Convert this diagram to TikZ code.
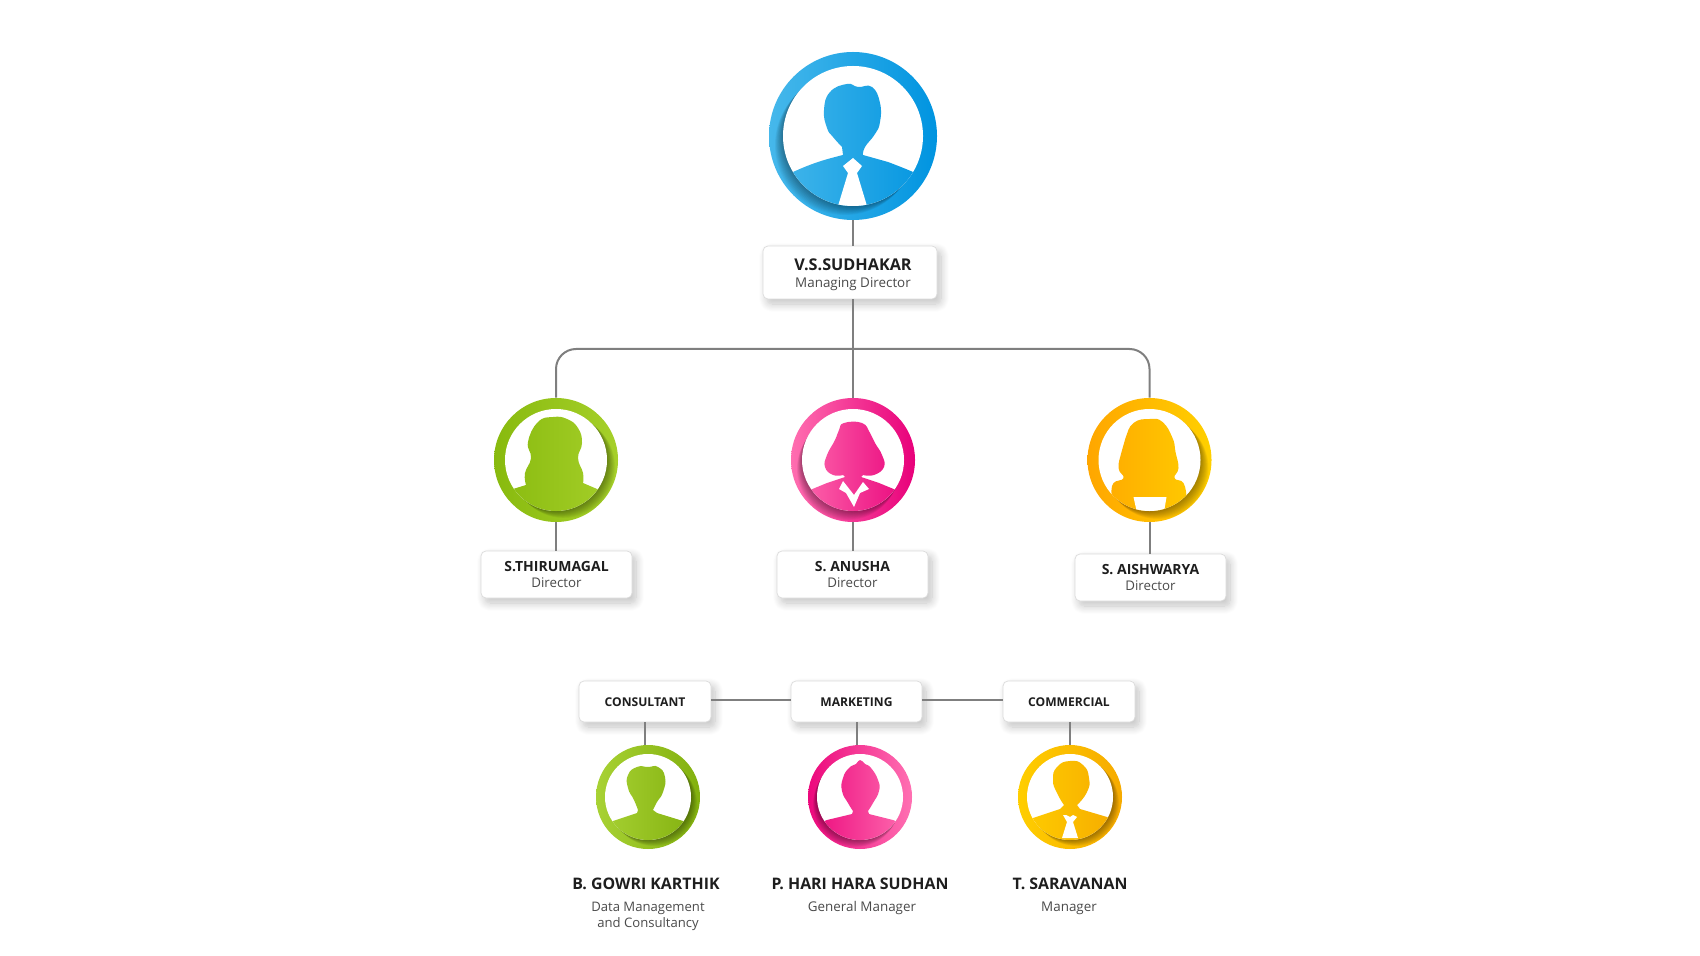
\documentclass[tikz,border=0pt]{standalone}
\usepackage{fontspec}
\setmainfont{Open Sans}
\usetikzlibrary{calc,shadows.blur}
\definecolor{conncol}{HTML}{7F7F7F}
\definecolor{namecol}{HTML}{1E1E1E}
\definecolor{rolecol}{HTML}{4A4A4A}
\tikzset{
  conn/.style={draw=conncol,line width=1pt},
  cardbox/.style={draw=black!14,line width=.35pt,fill=white,rounded corners=2.5pt,inner sep=0pt,
    align=center,blur shadow={shadow xshift=2pt,shadow yshift=-2.5pt,shadow blur radius=4pt,shadow blur steps=10,shadow opacity=24}},
  blueshade/.style={left color={rgb,255:red,70;green,184;blue,235},right color={rgb,255:red,0;green,148;blue,224}},
  greenAshade/.style={left color={rgb,255:red,136;green,186;blue,14},right color={rgb,255:red,166;green,208;blue,42}},
  pinkAshade/.style={left color={rgb,255:red,255;green,110;blue,176},right color={rgb,255:red,232;green,0;blue,122}},
  yellowAshade/.style={left color={rgb,255:red,255;green,166;blue,0},right color={rgb,255:red,255;green,208;blue,0}},
  greenBshade/.style={left color={rgb,255:red,168;green,210;blue,52},right color={rgb,255:red,130;green,176;blue,14}},
  pinkBshade/.style={left color={rgb,255:red,236;green,8;blue,124},right color={rgb,255:red,255;green,112;blue,178}},
  yellowBshade/.style={left color={rgb,255:red,255;green,206;blue,0},right color={rgb,255:red,246;green,170;blue,0}},
}
\newcommand{\person}[8]{%
  \node[circle,inner sep=0pt,minimum size=#3pt,#5] (#1) at #2 {};
  \begin{scope}
    \clip #2 circle[radius=#3];
    \foreach \t in {.1,.2,...,1.01}{\fill[black,opacity=.04] ($#2+\t*#6$) circle[radius=#4];}
  \end{scope}
  \fill[white] #2 circle[radius=#4];
  \begin{scope}[shift={#2}]
    \clip (0,0) circle[radius=#4];
    \begin{scope}
      \clip #7;
      \shade[#5] (0,0) circle[radius=#3];
    \end{scope}
    #8
  \end{scope}
}
\newcommand{\nm}[1]{\fontsize{#1}{#1}\selectfont\bfseries\color{namecol}}
\newcommand{\rl}[1]{\fontsize{#1}{#1}\selectfont\color{rolecol}}
\begin{document}
\begin{tikzpicture}[x=.5pt,y=-.5pt]
\useasboundingbox (0,0) rectangle (1700,956);
% people
\person{md}{(853,136)}{84}{70}{blueshade}{(-8,9)}
 {(-95,90) -- plot[smooth,tension=.7] coordinates {(-75,44)(-60,36)(-35,26)(-10,19)} -- plot[smooth,tension=.8] coordinates {(-11,11)(-20,1)(-26,-8)(-29,-26)(-23,-44)(-6,-52)(5,-49)(19,-49)(27,-33)(27,-14)(22,-2)(12,11)(10,19)} -- plot[smooth,tension=.7] coordinates {(35,26)(60,36)(75,44)} -- (95,90) -- cycle}
 {\fill[white] (0,22) -- (9,30) -- (4,37) -- (14,70) -- (-15,70) -- (-5,37) -- (-10,30) -- cycle;}
\person{da}{(556,460)}{62}{51}{greenAshade}{(8,7)}
 {(-60,60) -- (-60,34) -- (-43,29) -- plot[smooth,tension=.8] coordinates {(-30,25)(-31,13)(-25,-2)(-28,-18)(-18,-38)(-3,-43)(11,-41)(22,-32)(26,-17)(22,-2)(27,13)(27,23)} -- (41,29) -- (60,38) -- (60,60) -- cycle}
 {}
\person{db}{(853,460)}{62}{51}{pinkAshade}{(-5,9)}
 {(-60,60) -- (-60,36) -- (-43,30) -- (-26,23) -- (-8,17) -- plot[smooth,tension=.8] coordinates {(-10,15)(-20,15)(-28,7)(-26,-5)(-18,-20)(-14,-30)(-9,-37)(9,-37)(17,-27)(22,-17)(29,-5)(31,7)(21,15)(10,15)} -- (8,17) -- (26,23) -- (43,30) -- (60,36) -- (60,60) -- cycle}
 {\fill[white] (-14,29) -- (-10,21) -- (1,35) -- (10,22) -- (16,29) -- (7,33) -- (1,47) -- (-7,33) -- cycle;}
\person{dc}{(1149.5,460)}{62}{51}{yellowAshade}{(8,8)}
 {(-60,60) -- (-38,40) -- plot[smooth,tension=.8] coordinates {(-38,33)(-36,23)(-26,18)(-31,8)(-28,-8)(-24,-22)(-16,-37)(0,-41)(13,-38)(23,-22)(26,-8)(29,8)(25,18)(34,23)(37,37)} -- (60,60) -- cycle}
 {\fill[white] (-16,37) -- (17,37) -- (14,55) -- (-12,55) -- cycle;}
\person{pa}{(648,797)}{52}{43}{greenBshade}{(6,6)}
 {(-60,60) -- (-50,30) -- plot[smooth,tension=.7] coordinates {(-35,24)(-11,16)} -- plot[smooth,tension=.9] coordinates {(-10,13)(-14,3)(-20,-9)(-20,-22)(-11,-30)(0,-30)(10,-30)(17,-20)(15,-5)(9,5)(5,13)} -- plot[smooth,tension=.7] coordinates {(9,16)(35,24)} -- (50,30) -- (60,60) -- cycle}
 {}
\person{pb}{(860,797)}{52}{43}{pinkBshade}{(-4,7)}
 {(-60,60) -- (-50,30) -- plot[smooth,tension=.7] coordinates {(-33,23)(-8,17)} -- plot[smooth,tension=.9] coordinates {(-7,14)(-12,6)(-18,-6)(-17,-19)(-11,-29)(-4,-33)(0,-37)(5,-33)(11,-29)(18,-17)(19,-6)(13,6)(8,14)} -- plot[smooth,tension=.7] coordinates {(9,17)(33,23)} -- (50,30) -- (60,60) -- cycle}
 {}
\person{pc}{(1070,797)}{52}{43}{yellowBshade}{(6,6)}
 {(-60,60) -- (-50,28) -- plot[smooth,tension=.7] coordinates {(-37,21)(-10,12)} -- plot[smooth,tension=.9] coordinates {(-6,8)(-13,-4)(-17,-17)(-13,-30)(0,-36)(13,-32)(19,-19)(17,-5)(7,8)} -- plot[smooth,tension=.7] coordinates {(10,12)(37,20)} -- (50,28) -- (60,60) -- cycle}
 {\fill[white] (-7,18) -- (-4,18) -- (0,20) -- (3,18) -- (7,20) -- (3,25) -- (8,41) -- (-8,41) -- (-3,25) -- cycle;}
% boxes
\node[cardbox,minimum width=87pt,minimum height=26.5pt] (bmd) at (850,272.5)
  {\hspace*{3pt}{\rule{0pt}{8pt}\nm{8.1}V.S.SUDHAKAR}\\[-3.4pt]\hspace*{3pt}{\rl{6.7}Managing Director}};
\node[cardbox,minimum width=75.5pt,minimum height=23.5pt] (bda) at (556.5,574.5)
  {{\nm{7}S.THIRUMAGAL}\\[-3.9pt]{\rl{6.65}Director}};
\node[cardbox,minimum width=75.5pt,minimum height=23.5pt] (bdb) at (852.5,574.5)
  {{\nm{7}S. ANUSHA}\\[-3.9pt]{\rl{6.65}Director}};
\node[cardbox,minimum width=75.5pt,minimum height=23.5pt] (bdc) at (1150.5,577.5)
  {{\nm{7}S. AISHWARYA}\\[-3.9pt]{\rl{6.65}Director}};
\node[cardbox,minimum width=66pt,minimum height=20.5pt] (bpa) at (645,701.5) {\rule{0pt}{5.3pt}\nm{6.05}CONSULTANT};
\node[cardbox,minimum width=65.5pt,minimum height=20.5pt] (bpb) at (856.5,701.5) {\rule{0pt}{5.3pt}\nm{6.05}MARKETING};
\node[cardbox,minimum width=66pt,minimum height=20.5pt] (bpc) at (1069,701.5) {\rule{0pt}{5.3pt}\nm{6.05}COMMERCIAL};
% connectors
\coordinate (trunk) at (853,349);
\draw[conn] (md.south) -- (md.south |- bmd.north);
\draw[conn] (md.south |- bmd.south) -- (db.north);
\draw[conn,rounded corners=10pt] (da.north) -- (da.north |- trunk) -- (dc.north |- trunk) -- (dc.north);
\draw[conn] (da.south) -- (da.south |- bda.north);
\draw[conn] (db.south) -- (db.south |- bdb.north);
\draw[conn] (dc.south) -- (dc.south |- bdc.north);
\draw[conn] ($(bpa.east)+(0,-1.5)$) -- ($(bpb.west)+(0,-1.5)$);
\draw[conn] ($(bpb.east)+(0,-1.5)$) -- ($(bpc.west)+(0,-1.5)$);
\draw[conn] (bpa.south) -- (bpa.south |- pa.north);
\draw[conn] (bpb.south) -- (bpb.south |- pb.north);
\draw[conn] (pc.north |- bpc.south) -- (pc.north);
% captions
\node (na) at (646,884) {\nm{7.95}B. GOWRI KARTHIK};
\node (ra) at (648,916.5) [align=center] {\rl{6.55}Data Management\\[-4pt]\rl{6.55}and Consultancy};
\node (nb) at (860,884) {\nm{7.95}P. HARI HARA SUDHAN};
\node (rb) at (862,908) {\rl{6.7}General Manager};
\node (nc) at (1070,884) {\nm{7.95}T. SARAVANAN};
\node (rc) at (1069,908) {\rl{6.7}Manager};
\end{tikzpicture}
\end{document}
